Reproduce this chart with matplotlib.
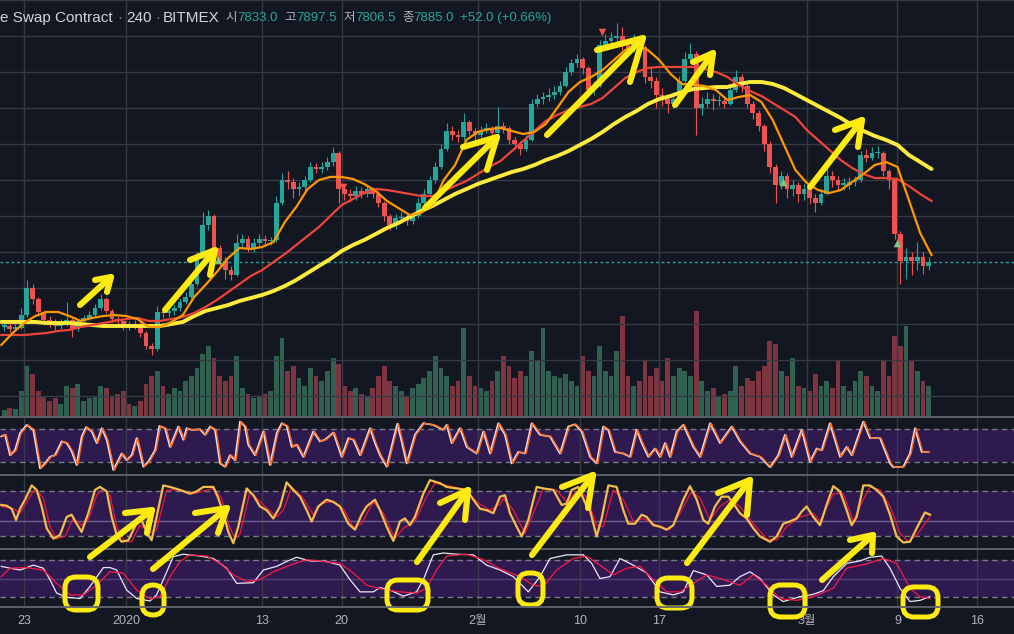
import numpy as np
import matplotlib
matplotlib.use('Agg')
import matplotlib.pyplot as plt
from matplotlib.lines import Line2D
from matplotlib.patches import FancyBboxPatch
from matplotlib.transforms import IdentityTransform

plt.rcParams['font.family'] = ['Liberation Sans', 'Noto Sans CJK KR', 'DejaVu Sans']

BG = '#131722'
GRID = '#363a45'
GREEN = '#26a69a'
RED = '#ef5350'
YEL = '#fcea10'

# ---- XBTUSD, 12h candles starting 21 Dec 2019 00:00 (day 0) ----
first_open = 7170
close = [7180, 7150, 7160, 7300, 7600, 7480, 7330, 7250, 7220, 7180,
         7200, 7250, 7150, 7230, 7270, 7300, 7380, 7480, 7350, 7260,
         7230, 7180, 7170, 7200, 7100, 6960, 6920, 7330, 7320, 7340,
         7380, 7450, 7500, 7650, 7950, 8300, 8400, 8050, 7900, 7800,
         7750, 8100, 8150, 8050, 8100, 8150, 8120, 8130, 8550, 8800,
         8780, 8700, 8720, 8800, 8950, 8920, 8950, 9000, 9100, 8700,
         8650, 8620, 8680, 8650, 8700, 8650, 8550, 8400, 8300, 8380,
         8380, 8350, 8400, 8550, 8650, 8800, 8950, 9150, 9350, 9300,
         9280, 9450, 9350, 9300, 9350, 9380, 9320, 9400, 9380, 9250,
         9200, 9150, 9250, 9650, 9700, 9720, 9750, 9780, 9850, 10000,
         10100, 10150, 10050, 9800, 9850, 10300, 10350, 10380, 10400, 10300,
         10250, 10350, 10280, 9950, 9900, 9750, 9700, 9650, 9700, 9900,
         10150, 10200, 9600, 9650, 9700, 9680, 9680, 9650, 9800, 9950,
         9850, 9650, 9550, 9400, 9200, 8950, 8750, 8850, 8700, 8750,
         8650, 8700, 8600, 8550, 8650, 8850, 8800, 8750, 8750, 8780,
         8800, 9080, 9050, 9100, 9100, 8900, 8800, 8200, 7900, 7950,
         7900, 7950, 7850, 7885]
high = [7230, 7210, 7200, 7380, 7690, 7650, 7500, 7360, 7290, 7260,
        7260, 7450, 7270, 7260, 7300, 7340, 7420, 7530, 7500, 7370,
        7290, 7250, 7230, 7240, 7220, 7120, 6990, 7400, 7380, 7370,
        7420, 7490, 7560, 7700, 8000, 8440, 8470, 8420, 8080, 7950,
        7850, 8200, 8200, 8180, 8160, 8200, 8190, 8170, 8620, 8880,
        8900, 8820, 8780, 8850, 9000, 8990, 9000, 9060, 9170, 9120,
        8760, 8700, 8730, 8720, 8750, 8720, 8680, 8570, 8420, 8420,
        8440, 8420, 8450, 8600, 8700, 8850, 9000, 9200, 9430, 9400,
        9360, 9540, 9470, 9380, 9400, 9430, 9400, 9610, 9450, 9400,
        9280, 9230, 9300, 9700, 9760, 9780, 9820, 9840, 9900, 10060,
        10150, 10200, 10170, 10070, 9900, 10360, 10420, 10450, 10540, 10500,
        10360, 10420, 10380, 10300, 10050, 9950, 9820, 9760, 9780, 9960,
        10220, 10320, 10230, 9720, 9780, 9760, 9740, 9720, 9850, 10020,
        9980, 9880, 9680, 9580, 9420, 9230, 8980, 8900, 8880, 8800,
        8780, 8760, 8720, 8650, 8700, 8920, 8900, 8840, 8820, 8830,
        8850, 9120, 9150, 9170, 9180, 9120, 8920, 8820, 8230, 8050,
        8000, 8110, 8000, 7950]
low = [7120, 7110, 7120, 7140, 7280, 7420, 7290, 7200, 7170, 7130,
       7140, 7180, 7060, 7120, 7200, 7240, 7280, 7360, 7320, 7220,
       7180, 7130, 7130, 7140, 7060, 6920, 6860, 6900, 7270, 7280,
       7300, 7350, 7420, 7480, 7620, 7920, 8250, 7980, 7850, 7700,
       7690, 7730, 8050, 8000, 8000, 8060, 8070, 8080, 8110, 8520,
       8700, 8600, 8620, 8680, 8780, 8880, 8880, 8910, 8960, 8550,
       8580, 8560, 8580, 8600, 8610, 8600, 8500, 8350, 8250, 8260,
       8330, 8300, 8310, 8380, 8520, 8620, 8770, 8920, 9120, 9250,
       9220, 9250, 9300, 9250, 9270, 9320, 9280, 9300, 9320, 9200,
       9140, 9080, 9120, 9230, 9610, 9650, 9680, 9700, 9750, 9830,
       9970, 10060, 9980, 9720, 9740, 9830, 10260, 10300, 10330, 10250,
       10200, 10220, 10200, 9880, 9820, 9600, 9620, 9550, 9600, 9680,
       9880, 10100, 9300, 9520, 9600, 9580, 9620, 9600, 9630, 9780,
       9780, 9600, 9480, 9350, 9120, 8880, 8550, 8700, 8600, 8620,
       8560, 8580, 8530, 8450, 8520, 8630, 8720, 8680, 8690, 8700,
       8730, 8780, 9000, 9020, 9040, 8850, 8700, 8150, 7650, 7700,
       7750, 7800, 7760, 7800]
volume = [6, 8, 7, 25, 50, 42, 25, 20, 15, 18,
          12, 30, 28, 32, 15, 18, 20, 30, 28, 20,
          22, 25, 12, 10, 15, 32, 40, 45, 30, 22,
          28, 25, 35, 40, 48, 62, 70, 58, 40, 35,
          40, 60, 28, 22, 18, 20, 22, 25, 60, 78,
          45, 50, 38, 30, 48, 40, 35, 45, 58, 52,
          30, 25, 28, 22, 20, 28, 40, 50, 35, 30,
          25, 20, 28, 32, 38, 45, 60, 48, 40, 30,
          35, 88, 40, 30, 28, 25, 35, 45, 60, 50,
          38, 45, 40, 65, 55, 88, 45, 40, 38, 42,
          35, 30, 60, 45, 40, 70, 45, 40, 65, 100,
          40, 30, 35, 55, 40, 48, 35, 58, 40, 48,
          45, 40, 105, 35, 25, 28, 20, 22, 25, 50,
          30, 38, 35, 45, 50, 75, 72, 45, 40, 58,
          30, 28, 25, 42, 30, 35, 28, 55, 30, 25,
          35, 45, 40, 30, 25, 55, 40, 80, 70, 90,
          55, 45, 35, 30]

# moving averages, one value per day (day 0 = 21 Dec)
ma_fast = [6967, 7100, 7211, 7289, 7334, 7334, 7289, 7234, 7267, 7289,
           7300, 7289, 7256, 7167, 7167, 7223, 7300, 7500, 7634, 7778,
           7934, 8045, 8034, 8056, 8111, 8334, 8500, 8700, 8800, 8834,
           8834, 8811, 8756, 8678, 8567, 8489, 8411, 8434, 8522, 8800,
           8967, 9245, 9334, 9367, 9378, 9345, 9311, 9334, 9422, 9600,
           9778, 9889, 9945, 10022, 10133, 10244, 10300, 10244, 10133, 9978,
           9867, 9856, 9845, 9800, 9689, 9722, 9745, 9667, 9467, 9189,
           8911, 8767, 8689, 8656, 8689, 8778, 8867, 8967, 9000, 8945,
           8578, 8211, 7967]
ma_mid = [7078, 7078, 7078, 7089, 7100, 7123, 7134, 7167, 7189, 7211,
          7234, 7256, 7267, 7234, 7234, 7256, 7278, 7322, 7389, 7467,
          7556, 7645, 7734, 7800, 7889, 7978, 8078, 8178, 8278, 8400,
          8522, 8589, 8656, 8700, 8689, 8667, 8645, 8622, 8622, 8678,
          8734, 8789, 8867, 8945, 9011, 9122, 9233, 9345, 9456, 9522,
          9578, 9611, 9645, 9711, 9822, 9933, 10000, 10045, 10056, 10056,
          10056, 10056, 10033, 10000, 9945, 9856, 9789, 9733, 9656, 9578,
          9500, 9356, 9245, 9133, 9022, 8934, 8867, 8822, 8822, 8811,
          8734, 8645, 8567]
ma_slow = [7223, 7223, 7223, 7223, 7211, 7211, 7211, 7200, 7189, 7178,
           7178, 7178, 7178, 7178, 7178, 7200, 7223, 7289, 7345, 7378,
           7411, 7456, 7489, 7523, 7567, 7623, 7689, 7767, 7845, 7922,
           8011, 8078, 8134, 8200, 8267, 8322, 8389, 8456, 8511, 8578,
           8645, 8700, 8756, 8800, 8845, 8889, 8922, 8967, 9022, 9067,
           9122, 9189, 9256, 9334, 9422, 9500, 9567, 9645, 9700, 9733,
           9778, 9811, 9822, 9833, 9833, 9867, 9889, 9889, 9867, 9822,
           9756, 9689, 9622, 9556, 9489, 9411, 9345, 9289, 9245, 9189,
           9078, 9000, 8922]

sell_marks = [(30.1, 8722), (52.95, 10444)]
buy_marks = [(19.1, 7911), (68.9, 8778), (78.95, 8100)]

# oscillators: (day, value) turning points
stoch_fast = [(0.0, 67), (0.33, 70), (0.77, 33), (1.21, 42), (1.65, 73), (2.24, 88), (2.82, 79), (3.41, 9),
              (3.85, 18), (4.29, 30), (4.73, 33), (5.32, 58), (5.76, 55), (6.2, 40), (6.64, 15), (7.09, 67),
              (7.47, 84), (7.97, 76), (8.41, 55), (8.85, 82), (9.29, 61), (9.87, 6), (10.31, 24), (10.61, 36),
              (11.05, 24), (11.49, 33), (11.93, 64), (12.52, 12), (12.96, 21), (13.55, 42), (13.93, 86),
              (14.43, 82), (14.87, 48), (15.6, 85), (16.04, 61), (16.34, 82), (16.78, 79), (17.51, 80),
              (17.96, 70), (18.4, 85), (18.84, 79), (19.28, 18), (19.72, 12), (20.16, 33), (20.6, 24),
              (21.04, 94), (21.48, 85), (21.77, 52), (22.36, 33), (23.1, 76), (23.68, 15), (24.28, 73),
              (24.72, 91), (25.16, 86), (25.6, 48), (26.04, 52), (26.62, 30), (27.5, 76), (28.09, 58),
              (28.53, 61), (29.27, 74), (30.0, 30), (30.59, 64), (31.03, 61), (31.62, 33), (32.5, 82),
              (32.94, 55), (33.38, 33), (33.97, 12), (34.55, 61), (34.91, 90), (35.29, 58), (35.73, 18),
              (36.46, 70), (37.2, 91), (38.08, 88), (38.96, 79), (39.26, 88), (39.7, 55), (40.43, 82),
              (41.02, 48), (41.9, 36), (42.49, 76), (43.08, 36), (43.81, 91), (44.4, 70), (44.99, 18),
              (45.57, 39), (46.16, 36), (46.75, 91), (47.48, 70), (48.36, 67), (49.25, 36), (49.98, 85),
              (50.57, 89), (51.16, 76), (51.89, 30), (52.48, 18), (53.06, 85), (53.5, 79), (54.09, 39),
              (54.83, 36), (55.42, 30), (56.0, 79), (56.45, 55), (57.03, 30), (57.62, 45), (58.06, 30),
              (58.5, 55), (58.94, 30), (59.53, 76), (60.12, 88), (61.0, 48), (61.59, 30), (62.47, 91),
              (63.35, 55), (64.38, 85), (65.11, 58), (66.0, 36), (66.88, 30), (67.76, 11), (68.49, 33),
              (69.08, 70), (69.67, 30), (70.55, 79), (71.28, 21), (71.87, 45), (72.31, 42), (73.04, 91),
              (73.93, 30), (74.52, 48), (74.96, 33), (75.98, 94), (76.57, 64), (77.45, 64), (78.34, 18),
              (78.63, 11), (79.51, 12), (80.1, 36), (80.54, 82), (81.13, 39), (81.71, 39)]

stoch_mid_k = [(0.0, 61), (0.47, 60), (0.91, 56), (1.30, 41), (1.65, 56), (2.09, 68), (2.68, 87), (3.12, 81),
               (3.56, 59), (4.00, 30), (4.59, 16), (5.17, 21), (5.76, 45), (6.20, 48), (6.64, 36), (7.08, 25),
               (7.67, 50), (8.26, 81), (8.70, 85), (9.29, 79), (9.73, 45), (10.17, 21), (10.61, 12), (11.20, 14),
               (11.64, 28), (12.22, 45), (12.96, 21), (13.25, 14), (13.69, 45), (14.28, 87), (14.87, 85),
               (15.75, 81), (16.63, 76), (17.22, 79), (17.81, 85), (18.69, 85), (19.13, 70), (19.57, 50),
               (20.01, 25), (20.45, 10), (20.89, 32), (21.63, 83), (22.21, 74), (22.80, 59), (23.39, 54),
               (23.98, 43), (24.57, 59), (25.15, 91), (25.74, 81), (26.33, 72), (26.92, 54), (27.36, 39),
               (27.94, 59), (28.68, 68), (29.27, 65), (29.85, 59), (30.59, 36), (31.18, 28), (31.76, 48),
               (32.20, 59), (32.94, 68), (33.38, 54), (33.97, 32), (34.56, 13), (35.14, 39), (35.58, 43),
               (36.02, 34), (36.46, 45), (37.20, 76), (37.79, 94), (38.67, 90), (39.26, 85), (40.14, 83),
               (41.02, 81), (41.61, 68), (42.20, 56), (42.78, 54), (43.37, 50), (43.96, 72), (44.40, 74),
               (44.84, 50), (45.43, 32), (45.87, 19), (46.46, 41), (47.19, 85), (47.78, 83), (48.66, 81),
               (49.40, 61), (49.84, 63), (50.28, 81), (50.86, 85), (51.60, 59), (51.89, 54), (52.48, 19),
               (52.92, 43), (53.51, 87), (54.24, 85), (54.83, 54), (55.27, 36), (55.86, 36), (56.45, 48),
               (56.89, 45), (57.48, 34), (58.06, 32), (58.65, 28), (59.24, 34), (60.12, 68), (60.71, 86),
               (61.30, 68), (61.88, 41), (62.32, 36), (62.91, 59), (63.50, 72), (64.09, 72), (64.53, 63),
               (65.11, 50), (65.70, 43), (66.29, 30), (66.88, 19), (67.76, 12), (68.35, 19), (68.93, 36),
               (69.52, 39), (70.11, 43), (70.55, 52), (70.99, 59), (71.58, 45), (72.17, 34), (72.75, 61),
               (73.34, 86), (73.93, 79), (74.52, 54), (74.96, 34), (75.40, 45), (75.99, 87), (76.57, 87),
               (77.16, 81), (77.75, 72), (78.34, 48), (78.92, 19), (79.51, 11), (80.10, 12), (80.69, 30),
               (81.42, 51), (81.86, 48)]
stoch_mid_d = [(0.0, 59), (1.06, 56), (1.65, 50), (2.24, 65), (2.97, 83), (3.70, 70), (4.29, 32), (4.88, 16),
               (5.61, 19), (6.35, 43), (7.08, 34), (7.67, 41), (8.41, 74), (9.00, 83), (9.58, 74), (10.17, 32),
               (10.90, 12), (11.49, 12), (12.22, 34), (13.11, 24), (13.69, 28), (14.58, 81), (15.75, 81),
               (16.93, 76), (18.69, 83), (19.42, 70), (20.01, 36), (20.60, 16), (21.04, 22), (21.92, 79),
               (23.10, 61), (24.27, 45), (24.86, 54), (25.59, 85), (26.62, 70), (27.50, 48), (28.24, 63),
               (29.27, 66), (30.15, 56), (31.03, 31), (31.76, 36), (32.79, 65), (33.68, 50), (34.70, 16),
               (35.44, 30), (36.46, 39), (37.49, 72), (38.23, 90), (39.55, 86), (41.02, 81), (41.90, 65),
               (43.08, 54), (43.96, 62), (44.25, 70), (45.14, 54), (46.16, 23), (46.90, 50), (47.78, 83),
               (48.95, 81), (49.84, 65), (50.72, 79), (51.60, 72), (52.48, 34), (53.07, 32), (53.95, 81),
               (54.83, 68), (55.71, 39), (56.59, 43), (57.77, 34), (58.94, 28), (59.83, 50), (60.85, 79),
               (61.59, 70), (62.47, 41), (63.35, 59), (64.23, 68), (65.11, 59), (66.29, 36), (67.47, 16),
               (68.35, 14), (69.23, 32), (70.40, 45), (71.58, 50), (72.17, 39), (73.34, 76), (74.22, 76),
               (75.10, 39), (75.69, 59), (76.57, 85), (77.46, 81), (78.34, 59), (79.22, 23), (79.95, 12),
               (80.69, 21), (81.86, 45)]

stoch_slow_k = [(0.0, 70), (0.77, 67), (1.65, 64), (2.82, 72), (3.70, 67), (4.29, 48), (4.88, 26), (5.76, 19),
                (6.94, 17), (7.82, 37), (9.00, 68), (9.58, 68), (10.17, 64), (11.05, 31), (11.93, 17),
                (13.11, 13), (13.69, 23), (14.28, 48), (15.16, 86), (16.04, 90), (17.51, 87), (18.69, 83),
                (19.86, 67), (20.75, 42), (22.21, 43), (23.10, 64), (24.27, 70), (25.15, 78), (26.03, 85),
                (27.21, 79), (28.68, 78), (29.85, 72), (30.74, 48), (31.62, 28), (32.79, 28), (33.38, 35),
                (34.26, 31), (35.44, 21), (36.61, 28), (37.20, 48), (38.08, 89), (38.96, 92), (40.14, 90),
                (41.61, 89), (42.78, 72), (43.96, 64), (45.14, 53), (46.46, 28), (47.49, 53), (48.37, 83),
                (49.84, 89), (51.31, 89), (52.04, 75), (52.77, 50), (53.66, 53), (54.54, 83), (55.71, 72),
                (56.89, 59), (58.06, 28), (59.24, 23), (60.12, 28), (61.00, 63), (62.18, 56), (63.06, 37),
                (64.23, 39), (65.11, 53), (65.99, 61), (66.88, 50), (68.05, 23), (68.93, 12), (70.40, 20),
                (71.58, 24), (72.46, 30), (73.34, 53), (74.52, 75), (75.69, 79), (76.57, 85), (77.60, 87),
                (78.34, 67), (79.22, 34), (80.10, 12), (80.98, 14), (81.86, 20)]
stoch_slow_d = [(0.0, 53), (0.77, 67), (2.24, 68), (3.70, 64), (4.88, 42), (6.06, 23), (7.23, 23), (8.41, 39),
                (9.58, 61), (10.76, 59), (11.93, 31), (13.11, 16), (13.99, 20), (14.87, 53), (15.75, 78),
                (16.63, 89), (18.10, 87), (19.28, 75), (20.45, 56), (21.63, 45), (22.80, 48), (23.98, 61),
                (25.45, 72), (26.92, 81), (28.39, 78), (29.85, 75), (31.03, 59), (32.20, 39), (33.67, 32),
                (35.14, 28), (36.61, 26), (37.49, 34), (38.37, 64), (39.26, 87), (41.02, 90), (42.49, 81),
                (43.96, 66), (45.72, 53), (46.90, 39), (47.78, 37), (48.95, 64), (50.42, 83), (51.60, 87),
                (52.77, 72), (53.95, 56), (55.13, 67), (56.30, 70), (57.48, 48), (58.65, 28), (59.83, 28),
                (61.00, 42), (62.18, 56), (63.35, 50), (65.11, 39), (66.29, 56), (67.47, 39), (68.64, 17),
                (70.11, 14), (71.58, 20), (73.34, 34), (74.52, 67), (76.28, 74), (77.75, 83), (78.92, 75),
                (80.10, 34), (80.98, 20), (81.86, 17)]

tick_days = [2, 11, 23, 30, 42, 51, 58, 71, 79, 86]
tick_labels = ['23', '2020', '13', '20', '2월', '10', '17', '3월', '9', '16']

# hand drawn marks, screen pixels: tail, tip, two barb ends
arrows = [((80, 305), (111, 277), (95, 280), (107, 292)),
          ((165, 310), (215, 250), (190, 260), (210, 275)),
          ((425, 208), (497, 137), (463, 147), (487, 170)),
          ((547, 135), (643, 38), (597, 50), (630, 82)),
          ((675, 105), (713, 53), (693, 62), (710, 75)),
          ((810, 187), (862, 120), (835, 130), (858, 147)),
          ((90, 557), (152, 510), (125, 513), (147, 533)),
          ((153, 569), (227, 508), (195, 513), (218, 533)),
          ((417, 562), (468, 490), (440, 503), (465, 520)),
          ((532, 555), (593, 475), (562, 487), (588, 508)),
          ((687, 563), (750, 480), (718, 493), (747, 515)),
          ((822, 580), (873, 535), (850, 540), (872, 553))]
loops = [(65, 577, 98, 610), (142, 585, 164, 615), (387, 580, 428, 610), (518, 573, 543, 605),
         (657, 578, 692, 608), (770, 585, 805, 617), (903, 587, 938, 617)]

W, H = 1014, 634
fig = plt.figure(figsize=(W / 100, H / 100), dpi=100, facecolor=BG)


def pane(top, bottom):
    return [0, 1 - bottom / H, 1, (bottom - top) / H]


XL = (-0.115, 89.27)
ax_v = fig.add_axes(pane(0, 416))
ax = fig.add_axes(pane(0, 416))
ax1 = fig.add_axes(pane(417, 475))
ax2 = fig.add_axes(pane(475, 549))
ax3 = fig.add_axes(pane(549, 606))

for a in (ax_v, ax, ax1, ax2, ax3):
    a.set_facecolor(BG)
    a.set_xlim(*XL)
    for s in a.spines.values():
        s.set_visible(False)
    a.set_xticks(tick_days)
    a.tick_params(left=False, bottom=False, labelleft=False, labelbottom=False)
    a.grid(axis='x', color=GRID, lw=1)
    a.set_axisbelow(True)
ax.patch.set_visible(False)
ax_v.grid(False)

# volume
t = np.arange(len(close)) * 0.5 + 0.25
opn = np.array([first_open] + close[:-1])
cls = np.array(close)
up = cls >= opn
ax_v.bar(t, volume, width=0.42, color=np.where(up, '#30604f', '#7d3641'), lw=0)
ax_v.set_ylim(0, max(volume) * 3.96)
ax_v.set_yticks([])

# price
ax.set_ylim(6178, 10800)
ax.set_yticks(np.arange(6400, 10801, 400))
ax.grid(axis='y', color=GRID, lw=1)
col = np.where(up, GREEN, RED)
ax.vlines(t, low, high, colors=col, lw=0.8, zorder=2)
ax.bar(t, np.maximum(np.abs(cls - opn), 14), bottom=np.minimum(opn, cls),
       width=0.42, color=col, lw=0, zorder=3)
days = np.arange(len(ma_slow))
ax.plot(days, ma_slow, color='#ffeb3b', lw=2.8, zorder=4, solid_capstyle='round')
ax.plot(days, ma_mid, color='#f0433a', lw=1.6, zorder=5)
ax.plot(days, ma_fast, color='#ff9800', lw=1.6, zorder=6)
ax.axhline(close[-1], color=GREEN, lw=1, ls=(0, (2, 2)), zorder=1)
ax.scatter(*zip(*sell_marks), marker='v', s=30, color=RED, zorder=7, lw=0)
ax.scatter(*zip(*buy_marks), marker='^', s=30, color='#7cc47f', zorder=7, lw=0)

# oscillator panes
BAND = '#2f1a50'
LEVEL = '#787b86'
for a, lim in ((ax1, (-3.1, 102.4)), (ax2, (2.3, 100.9)), (ax3, (4.7, 98.6))):
    a.set_ylim(*lim)
    a.axhspan(20, 80, color=BAND, lw=0, zorder=0)
    a.axhline(80, color=LEVEL, lw=1, ls=(0, (4, 3)), zorder=1)
    a.axhline(20, color=LEVEL, lw=1, ls=(0, (4, 3)), zorder=1)
ax2.axhline(40, color='#6b5f8f', lw=1, zorder=1)
ax3.axhline(50, color='#4f4078', lw=1, zorder=1)

ft, fv = zip(*stoch_fast)
ax1.plot(ft, fv, color='#e6e0f5', lw=1.3, zorder=3)
ax1.plot(np.array(ft) + 0.1, fv, color='#ff6a1a', lw=1.0, zorder=4)

mt, mv = zip(*stoch_mid_k)
ax2.plot(*zip(*stoch_mid_d), color='#f0143c', lw=0.9, zorder=3)
ax2.plot(mt, mv, color='#f2bd4b', lw=1.6, zorder=4)

ax3.plot(*zip(*stoch_slow_k), color='#ece6f7', lw=0.9, zorder=3)
ax3.plot(*zip(*stoch_slow_d), color='#ff1744', lw=0.9, zorder=4)

ax3.tick_params(labelbottom=True, pad=3, labelcolor='#b2b5be', labelsize=9)
ax3.set_xticklabels(tick_labels)

# pane separators
for y in (416.5, 475, 549, 606.5):
    fig.add_artist(Line2D([0, W], [H - y, H - y], color='#62656f', lw=1.3,
                          transform=IdentityTransform()))

# header: title, then OHLC values with Korean labels
hy = 1 - 18 / H
parts = [(0, 'e Swap Contract', '#d1d4dc', 11), (117, '·', '#787b86', 11),
         (126, '240', '#d1d4dc', 11), (155, '·', '#787b86', 11), (163, 'BITMEX', '#d1d4dc', 11),
         (225, '시', '#b2b5be', 9), (237, '7833.0', GREEN, 9.5),
         (284, '고', '#b2b5be', 9), (296, '7897.5', GREEN, 9.5),
         (343, '저', '#b2b5be', 9), (355, '7806.5', GREEN, 9.5),
         (402, '종', '#b2b5be', 9), (413, '7885.0', GREEN, 9.5),
         (460, '+52.0 (+0.66%)', GREEN, 9.5)]
for x, s, c, fs in parts:
    fig.text(x / W, hy, s, color=c, fontsize=fs, va='center', ha='left')

# yellow marker scribbles
for tail, tip, b1, b2 in arrows:
    for xs, ys in (([tail[0], tip[0]], [tail[1], tip[1]]),
                   ([b1[0], tip[0], b2[0]], [b1[1], tip[1], b2[1]])):
        fig.add_artist(Line2D(xs, [H - v for v in ys], color=YEL, lw=4.4,
                              solid_capstyle='round', solid_joinstyle='round',
                              transform=IdentityTransform()))
for x0, y0, x1, y1 in loops:
    fig.add_artist(FancyBboxPatch((x0, H - y1), x1 - x0, y1 - y0,
                                  boxstyle='round,pad=0,rounding_size=11',
                                  fill=False, ec=YEL, lw=3.6,
                                  transform=IdentityTransform()))

fig.savefig('out.png', dpi=100, facecolor=BG)
